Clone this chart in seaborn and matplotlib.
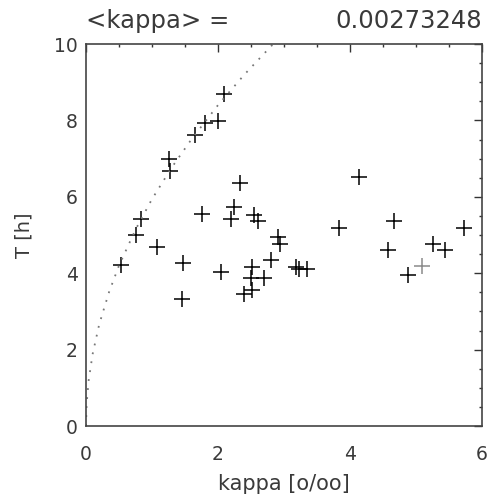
import matplotlib
matplotlib.use("Agg")
import matplotlib.pyplot as plt
import seaborn as sns
import pandas as pd
from matplotlib.ticker import MultipleLocator

# data
kappa = [0.53, 0.76, 0.84, 1.07, 1.26, 1.27, 1.45, 1.47, 1.65, 1.76, 1.80, 2.00,
         2.05, 2.09, 2.20, 2.24, 2.34, 2.39, 2.50, 2.51, 2.52, 2.54, 2.60, 2.69,
         2.81, 2.91, 2.94, 3.18, 3.22, 3.35, 3.84, 4.13, 4.58, 4.67, 4.88, 5.26,
         5.44, 5.73]
T_hours = [4.21, 5.00, 5.41, 4.68, 6.99, 6.68, 3.32, 4.26, 7.62, 5.55, 7.92, 7.98,
           4.04, 8.69, 5.41, 5.73, 6.35, 3.45, 3.88, 3.55, 4.17, 5.52, 5.37, 3.88,
           4.35, 4.96, 4.76, 4.17, 4.12, 4.12, 5.19, 6.51, 4.61, 5.37, 3.95, 4.76,
           4.61, 5.19]
kappa_gray = [5.09]
T_gray = [4.19]

curve_kappa = [0.0, 0.01, 0.04, 0.1, 0.2, 0.35, 0.5, 0.75, 1.0, 1.3, 1.6, 2.0, 2.4, 2.83]
curve_T = [0.0, 0.59, 1.19, 1.88, 2.66, 3.51, 4.20, 5.14, 5.94, 6.77, 7.51, 8.40, 9.20, 9.99]

title_left = "<kappa> ="
title_value = "0.00273248"
x_label = "kappa [o/oo]"
y_label = "T [h]"

sns.set_style("white")
plt.rcParams['font.family'] = ['DejaVu Sans']

fig = plt.figure(figsize=(4.91, 4.96), dpi=100)
ax = fig.add_axes([86/491, 1 - 426/496, (482-86)/491, (426-44)/496])

txt_col = "#3a3a3a"
df_pts = pd.DataFrame({"kappa": kappa, "T": T_hours})
df_gray = pd.DataFrame({"kappa": kappa_gray, "T": T_gray})
df_curve = pd.DataFrame({"kappa": curve_kappa, "T": curve_T})

sns.lineplot(data=df_curve, x="kappa", y="T", ax=ax, color="#777777",
             linestyle=(0, (1, 4)), linewidth=1.3, sort=False)
sns.scatterplot(data=df_pts, x="kappa", y="T", ax=ax, marker="+", s=125,
                color="black", linewidth=1.1)
sns.scatterplot(data=df_gray, x="kappa", y="T", ax=ax, marker="+", s=125,
                color="#8a8a8a", linewidth=1.1)

ax.set_xlim(0, 6)
ax.set_ylim(0, 10)
ax.xaxis.set_major_locator(MultipleLocator(2))
ax.xaxis.set_minor_locator(MultipleLocator(0.5))
ax.yaxis.set_major_locator(MultipleLocator(2))
ax.yaxis.set_minor_locator(MultipleLocator(0.5))
ax.tick_params(which="both", direction="in", top=True, right=True,
               color="#333333", width=1.0)
ax.tick_params(which="major", length=5.5)
ax.tick_params(which="minor", length=2.5)
ax.tick_params(axis="x", which="major", pad=14, labelsize=13.5, labelcolor=txt_col)
ax.tick_params(axis="y", which="major", pad=6, labelsize=13.5, labelcolor=txt_col)
for sp in ax.spines.values():
    sp.set_color("#444444")
    sp.set_linewidth(1.2)

ax.set_xlabel(x_label, fontsize=15, color=txt_col, labelpad=7)
ax.set_ylabel(y_label, fontsize=14, color=txt_col, labelpad=15)

fig.text(86/491, 1 - 21/496, title_left, ha="left", va="center",
         fontsize=17.5, color=txt_col)
fig.text(482/491, 1 - 21/496, title_value, ha="right", va="center",
         fontsize=17.5, color=txt_col)

fig.savefig("out.png", dpi=100)
